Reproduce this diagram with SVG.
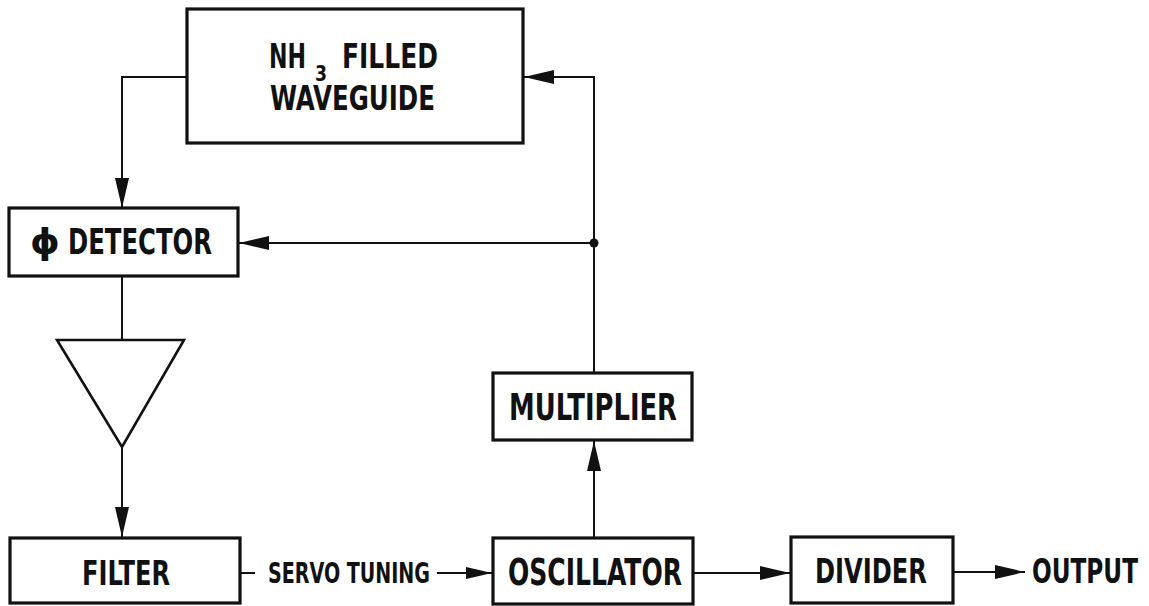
<svg xmlns="http://www.w3.org/2000/svg" width="1149" height="606" viewBox="0 0 1149 606">
<style>
.box{fill:#fff;stroke:#111;stroke-width:3.2}
.tri{fill:#fff;stroke:#111;stroke-width:2.6;stroke-linejoin:miter}
.c{fill:none;stroke:#111;stroke-width:2}
.t{font-family:"Liberation Sans Narrow","DejaVu Sans Condensed","Liberation Sans",sans-serif;font-weight:bold;fill:#111}
</style>
<defs>
<marker id="ah" markerUnits="userSpaceOnUse" markerWidth="30" markerHeight="14" refX="30" refY="7" orient="auto" viewBox="0 0 30 14">
<path d="M0,0 L30,7 L0,14 z" fill="#111"/>
</marker>
<marker id="ahs" markerUnits="userSpaceOnUse" markerWidth="26" markerHeight="12" refX="26" refY="6" orient="auto" viewBox="0 0 26 12">
<path d="M0,0 L26,6 L0,12 z" fill="#111"/>
</marker>
</defs>
<rect width="1149" height="606" fill="#fff"/>
<g id="connectors">
<polyline class="c" points="187,77 122,77 122,208" marker-end="url(#ah)"/>
<line class="c" x1="122" y1="276" x2="122" y2="340"/>
<line class="c" x1="122" y1="447" x2="122" y2="537" marker-end="url(#ah)"/>
<line class="c" x1="240" y1="573" x2="255" y2="573"/>
<line class="c" x1="437" y1="573" x2="492" y2="573" marker-end="url(#ahs)"/>
<line class="c" x1="594" y1="538" x2="594" y2="441" marker-end="url(#ah)"/>
<polyline class="c" points="594,373 594,77 524,77" marker-end="url(#ah)"/>
<line class="c" x1="594" y1="243" x2="239" y2="243" marker-end="url(#ah)"/>
<circle cx="594" cy="243" r="4.5" fill="#111"/>
<line class="c" x1="693" y1="573" x2="790" y2="573" marker-end="url(#ah)"/>
<line class="c" x1="953" y1="572" x2="1025" y2="572" marker-end="url(#ah)"/>
</g>
<g id="waveguide">
<rect class="box" x="187" y="9" width="336" height="134"/>
<text class="t" font-size="33" x="269" y="68" textLength="37" lengthAdjust="spacingAndGlyphs">NH</text>
<text class="t" font-size="21" x="315" y="81" textLength="12" lengthAdjust="spacingAndGlyphs">3</text>
<text class="t" font-size="33" x="342" y="68" textLength="96" lengthAdjust="spacingAndGlyphs">FILLED</text>
<text class="t" font-size="33" x="270" y="110" textLength="165" lengthAdjust="spacingAndGlyphs">WAVEGUIDE</text>
</g>
<g id="detector">
<rect class="box" x="9" y="208" width="229" height="68"/>
<text class="t" font-size="35"><tspan x="30" y="254" textLength="30" lengthAdjust="spacingAndGlyphs">ϕ</tspan><tspan x="68" y="254" textLength="144" lengthAdjust="spacingAndGlyphs">DETECTOR</tspan></text>
</g>
<g id="amplifier">
<polygon class="tri" points="57,340 184,340 122,447"/>
</g>
<g id="filter">
<rect class="box" x="10" y="538" width="230" height="65"/>
<text class="t" font-size="34" x="82" y="585" textLength="88" lengthAdjust="spacingAndGlyphs">FILTER</text>
</g>
<g id="servo-label">
<text class="t" font-size="28" x="268" y="583" textLength="162" lengthAdjust="spacingAndGlyphs">SERVO TUNING</text>
</g>
<g id="multiplier">
<rect class="box" x="493" y="373" width="199" height="67"/>
<text class="t" font-size="37" x="509" y="420" textLength="168" lengthAdjust="spacingAndGlyphs">MULTIPLIER</text>
</g>
<g id="oscillator">
<rect class="box" x="493" y="538" width="200" height="66"/>
<text class="t" font-size="37" x="508" y="585" textLength="174" lengthAdjust="spacingAndGlyphs">OSCILLATOR</text>
</g>
<g id="divider">
<rect class="box" x="791" y="537" width="162" height="66"/>
<text class="t" font-size="34" x="815" y="583" textLength="112" lengthAdjust="spacingAndGlyphs">DIVIDER</text>
</g>
<g id="output">
<text class="t" font-size="34" x="1032" y="583" textLength="106" lengthAdjust="spacingAndGlyphs">OUTPUT</text>
</g>
</svg>
